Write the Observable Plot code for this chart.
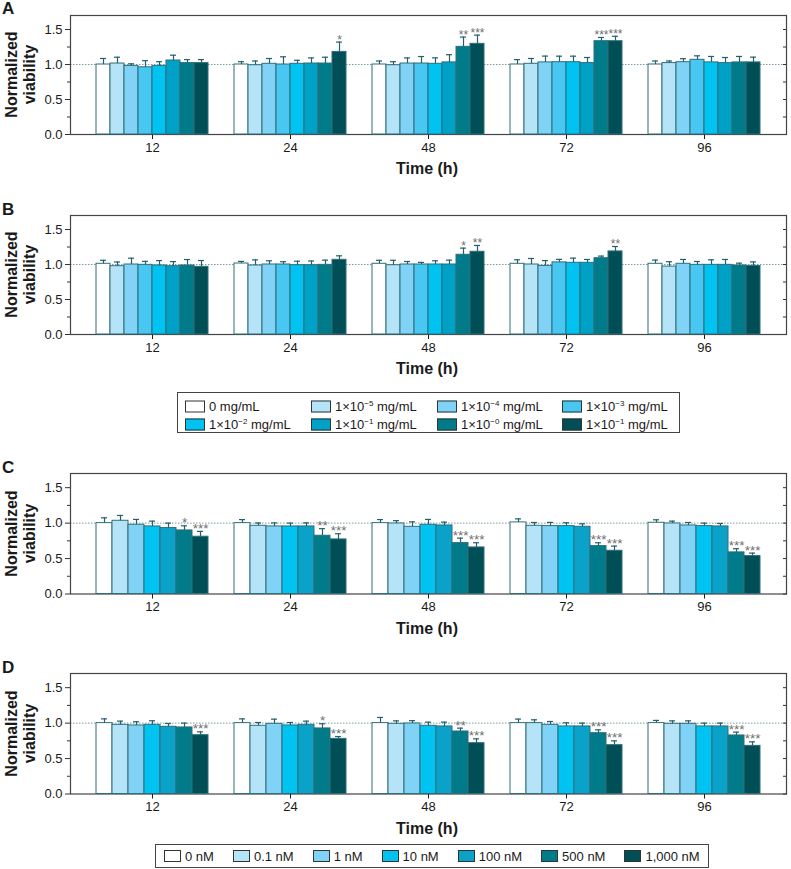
<!DOCTYPE html>
<html>
<head>
<meta charset="utf-8">
<script src="https://cdn.jsdelivr.net/npm/d3@7"></script>
<script src="https://cdn.jsdelivr.net/npm/@observablehq/plot@0.6"></script>
<style>
  body { margin: 0; background: #fff; font-family: "Liberation Sans", Arial, sans-serif; color: #1a1a1a; }
  #root { position: relative; width: 791px; height: 869px; overflow: hidden; background: #fff; }
  .panel { position: absolute; left: 0; }
  .letter { position: absolute; left: 2px; font-weight: bold; font-size: 17px; line-height: 17px; transform: translateY(-50%); }
  .ylab { position: absolute; font-weight: bold; font-size: 16px; line-height: 17.5px; text-align: center; transform-origin: center center; white-space: nowrap; }
  .xlab { position: absolute; font-weight: bold; font-size: 16px; line-height: 16px; transform: translate(-50%, -50%); white-space: nowrap; }
  .legend { position: absolute; border: 1px solid #444; box-sizing: border-box; background: #fff; font-size: 13px; }
  .item { position: absolute; display: flex; align-items: center; white-space: nowrap; transform: translateY(-50%); }
  .sw { width: 20px; height: 12px; border: 1px solid #333; box-sizing: border-box; margin-right: 4px; }
  .legend2 { display: flex; align-items: center; gap: 19px; padding: 0 8px; }
  .legend2 .item { position: static; transform: none; }
  .legend2 .sw { width: 17px; }
  sup { font-size: 8px; vertical-align: 5px; line-height: 0; }
</style>
</head>
<body>
<div id="root"></div>
<script>
// ---------- data ----------
const times = ["12", "24", "48", "72", "96"];

// Panels A & B : 8 concentrations (mg/mL)
const seriesAB = ["c0", "c1", "c2", "c3", "c4", "c5", "c6", "c7"];
const legendExpAB = [null, "−5", "−4", "−3", "−2", "−1", "−0", "−1"];
const colorsAB = ["#ffffff", "#b5e4f9", "#80d3f6", "#47c7f1", "#00c3f2", "#00a1c7", "#007b89", "#004f57"];

const valuesA = [
  [1.00, 1.014, 0.98, 0.96, 0.98, 1.057, 1.02, 1.02],
  [1.00, 0.99, 1.01, 1.00, 1.01, 1.014, 1.014, 1.18],
  [1.00, 0.99, 1.014, 1.014, 1.01, 1.03, 1.252, 1.295],
  [1.00, 1.01, 1.03, 1.033, 1.033, 1.02, 1.333, 1.333],
  [1.00, 1.02, 1.033, 1.067, 1.03, 1.02, 1.03, 1.03]
];
const errorsA = [
  [0.086, 0.09, 0.03, 0.095, 0.06, 0.076, 0.05, 0.05],
  [0.04, 0.06, 0.076, 0.11, 0.05, 0.08, 0.09, 0.14],
  [0.05, 0.05, 0.08, 0.1, 0.085, 0.11, 0.14, 0.125],
  [0.07, 0.076, 0.09, 0.086, 0.086, 0.08, 0.053, 0.07],
  [0.05, 0.03, 0.05, 0.057, 0.085, 0.08, 0.085, 0.075]
];
const signifA = [
  ["", "", "", "", "", "", "", ""],
  ["", "", "", "", "", "", "", "*"],
  ["", "", "", "", "", "", "**", "***"],
  ["", "", "", "", "", "", "***", "***"],
  ["", "", "", "", "", "", "", ""]
];

const valuesB = [
  [1.01, 0.976, 1.0, 0.995, 0.986, 0.976, 0.986, 0.967],
  [1.014, 0.986, 1.0, 1.0, 0.99, 0.99, 0.995, 1.067],
  [1.01, 0.99, 1.0, 1.0, 1.0, 1.0, 1.139, 1.182],
  [1.01, 1.0, 0.98, 1.03, 1.024, 1.024, 1.09, 1.187],
  [1.01, 0.97, 1.01, 0.995, 0.995, 0.995, 0.986, 0.98]
];
const errorsB = [
  [0.05, 0.06, 0.09, 0.05, 0.07, 0.065, 0.085, 0.09],
  [0.03, 0.08, 0.053, 0.04, 0.057, 0.06, 0.067, 0.057],
  [0.05, 0.07, 0.043, 0.03, 0.053, 0.062, 0.095, 0.09],
  [0.057, 0.086, 0.076, 0.043, 0.067, 0.048, 0.03, 0.07],
  [0.053, 0.07, 0.062, 0.048, 0.072, 0.077, 0.033, 0.057]
];
const signifB = [
  ["", "", "", "", "", "", "", ""],
  ["", "", "", "", "", "", "", ""],
  ["", "", "", "", "", "", "*", "**"],
  ["", "", "", "", "", "", "", "**"],
  ["", "", "", "", "", "", "", ""]
];

// Panels C & D : 7 concentrations (nM)
const seriesCD = ["0 nM", "0.1 nM", "1 nM", "10 nM", "100 nM", "500 nM", "1,000 nM"];
const colorsCD = ["#ffffff", "#b5e4f9", "#80d3f6", "#00c3f2", "#0aa2c9", "#007b89", "#004f57"];

const valuesC = [
  [1.0, 1.033, 0.977, 0.953, 0.93, 0.897, 0.808],
  [1.0, 0.962, 0.953, 0.953, 0.953, 0.822, 0.77],
  [1.0, 0.995, 0.948, 0.977, 0.967, 0.718, 0.657],
  [1.01, 0.962, 0.958, 0.958, 0.948, 0.676, 0.61],
  [1.005, 0.995, 0.967, 0.958, 0.953, 0.587, 0.535]
];
const errorsC = [
  [0.075, 0.075, 0.075, 0.075, 0.07, 0.065, 0.075],
  [0.05, 0.04, 0.05, 0.047, 0.05, 0.1, 0.08],
  [0.05, 0.04, 0.07, 0.075, 0.047, 0.07, 0.066],
  [0.05, 0.047, 0.052, 0.047, 0.042, 0.047, 0.066],
  [0.042, 0.033, 0.042, 0.042, 0.042, 0.052, 0.042]
];
const signifC = [
  ["", "", "", "", "", "*", "***"],
  ["", "", "", "", "", "**", "***"],
  ["", "", "", "", "", "***", "***"],
  ["", "", "", "", "", "***", "***"],
  ["", "", "", "", "", "***", "***"]
];

const valuesD = [
  [1.0, 0.976, 0.967, 0.976, 0.948, 0.939, 0.83],
  [1.0, 0.962, 0.99, 0.967, 0.976, 0.925, 0.778],
  [1.0, 0.99, 0.995, 0.962, 0.953, 0.882, 0.717],
  [1.0, 1.0, 0.976, 0.953, 0.953, 0.858, 0.689],
  [1.0, 0.99, 0.99, 0.953, 0.953, 0.826, 0.679]
];
const errorsD = [
  [0.06, 0.052, 0.052, 0.057, 0.047, 0.061, 0.047],
  [0.06, 0.047, 0.066, 0.042, 0.052, 0.066, 0.033],
  [0.08, 0.042, 0.04, 0.052, 0.061, 0.047, 0.061],
  [0.057, 0.047, 0.047, 0.052, 0.047, 0.047, 0.061],
  [0.038, 0.042, 0.042, 0.047, 0.047, 0.047, 0.057]
];
const signifD = [
  ["", "", "", "", "", "", "***"],
  ["", "", "", "", "", "*", "***"],
  ["", "", "", "", "", "**", "***"],
  ["", "", "", "", "", "***", "***"],
  ["", "", "", "", "", "***", "***"]
];

const yTicks = [0, 0.5, 1.0, 1.5];
const yMinorTicks = [0.25, 0.75, 1.25];
const yAllTicks = [0, 0.25, 0.5, 0.75, 1.0, 1.25, 1.5];
const yDomain = [0, 1.7];

// ---------- drawing ----------
const root = document.getElementById("root");
const fontStyle = { fontFamily: "Liberation Sans, Arial, sans-serif", fontSize: "13px", color: "#1a1a1a", background: "transparent", overflow: "visible" };
const MT = 14, MB = 46, ML = 70, MR = 5, W = 791;

function buildRows(values, errors, signif, series) {
  const rows = [];
  times.forEach((t, i) => series.forEach((s, j) => rows.push({
    time: t, series: s, v: values[i][j], e: errors[i][j], sig: signif[i][j]
  })));
  return rows;
}

function place(svg, top) {
  const wrap = document.createElement("div");
  wrap.className = "panel";
  wrap.style.top = top + "px";
  wrap.appendChild(svg);
  root.appendChild(wrap);
}

function panel({ letter, values, errors, signif, series, colors, frameTop, frameH, capInset, sigSize }) {
  const rows = buildRows(values, errors, signif, series);
  const H = MT + frameH + MB;

  // background layer: frame, y axes, reference line (full plot width)
  const bg = Plot.plot({
    width: W, height: H, marginTop: MT, marginBottom: MB, marginLeft: ML, marginRight: MR,
    style: fontStyle,
    x: { axis: null },
    y: { domain: yDomain, axis: null },
    marks: [
      Plot.ruleY([1], { stroke: "#7d9aa0", strokeWidth: 1, strokeDasharray: "1.5,1.5" }),
      Plot.axisY({ anchor: "left", ticks: yTicks, tickFormat: d3.format(".1f"), tickSize: 5, tickPadding: 3, label: null, stroke: "#333", fill: "#1a1a1a" }),
      Plot.axisY({ anchor: "left", ticks: yMinorTicks, tickFormat: () => "", tickSize: 3, label: null, stroke: "#333" }),
      Plot.axisY({ anchor: "right", ticks: yAllTicks, tickFormat: () => "", tickSize: 4, insetRight: 4, label: null, stroke: "#333" }),
      Plot.frame({ stroke: "#444", strokeWidth: 1.2 })
    ]
  });

  // foreground layer: grouped bars faceted by time
  const stroke = "#2f6e7a";
  const fg = Plot.plot({
    width: W, height: H, marginTop: MT, marginBottom: MB, marginLeft: ML, marginRight: MR,
    style: fontStyle,
    facet: { data: rows, x: "time" },
    fx: { domain: times, paddingInner: 0.19, paddingOuter: 0.18, axis: "bottom", label: null, tickSize: 5, tickPadding: 3 },
    x: { domain: series, padding: 0, axis: null },
    y: { domain: yDomain, axis: null },
    color: { domain: series, range: colors },
    marks: [
      Plot.barY(rows, { x: "series", y: "v", fill: "series", stroke, strokeWidth: 1 }),
      Plot.ruleX(rows, { x: "series", y1: "v", y2: d => d.v + d.e, stroke: "#24606b", strokeWidth: 1.2 }),
      Plot.tickY(rows, { x: "series", y: d => d.v + d.e, stroke: "#24606b", strokeWidth: 1.2, insetLeft: capInset, insetRight: capInset }),
      Plot.text(rows, { filter: d => d.sig !== "", x: "series", y: d => d.v + d.e, text: "sig", lineAnchor: "bottom", dy: 1.5, fill: "#6e6e6e", fontSize: sigSize })
    ]
  });

  place(bg, frameTop - MT);
  place(fg, frameTop - MT);

  const L = document.createElement("div");
  L.className = "letter";
  L.textContent = letter;
  L.style.top = (frameTop - 6.5) + "px";
  root.appendChild(L);

  const yl = document.createElement("div");
  yl.className = "ylab";
  yl.innerHTML = "Normalized<br>viability";
  const w = 120, h = 35;
  yl.style.width = w + "px";
  yl.style.height = h + "px";
  yl.style.left = (19.5 - w / 2) + "px";
  yl.style.top = (frameTop + frameH / 2 - h / 2) + "px";
  yl.style.transform = "rotate(-90deg)";
  root.appendChild(yl);

  const xl = document.createElement("div");
  xl.className = "xlab";
  xl.textContent = "Time (h)";
  xl.style.left = "427px";
  xl.style.top = (frameTop + frameH + 35) + "px";
  root.appendChild(xl);
}

panel({ letter: "A", values: valuesA, errors: errorsA, signif: signifA, series: seriesAB, colors: colorsAB, frameTop: 14.5, frameH: 119, capInset: 4, sigSize: 12 });
panel({ letter: "B", values: valuesB, errors: errorsB, signif: signifB, series: seriesAB, colors: colorsAB, frameTop: 215, frameH: 119, capInset: 4, sigSize: 12 });
panel({ letter: "C", values: valuesC, errors: errorsC, signif: signifC, series: seriesCD, colors: colorsCD, frameTop: 473, frameH: 120.5, capInset: 5, sigSize: 13.5 });
panel({ letter: "D", values: valuesD, errors: errorsD, signif: signifD, series: seriesCD, colors: colorsCD, frameTop: 673, frameH: 120.5, capInset: 5, sigSize: 13.5 });

// Legend 1 (mg/mL)
const leg1 = document.createElement("div");
leg1.className = "legend";
Object.assign(leg1.style, { left: "177px", top: "392px", width: "503px", height: "41px" });
const colX = [7, 133, 259, 384];
const rowY = [13, 31];
seriesAB.forEach((s, i) => {
  const it = document.createElement("div");
  it.className = "item";
  it.style.left = colX[i % 4] + "px";
  it.style.top = rowY[Math.floor(i / 4)] + "px";
  const sw = document.createElement("div");
  sw.className = "sw";
  sw.style.background = colorsAB[i];
  const tx = document.createElement("span");
  const exp = legendExpAB[i];
  tx.innerHTML = exp === null ? "0 mg/mL" : "1×10<sup>" + exp + "</sup> mg/mL";
  it.appendChild(sw); it.appendChild(tx);
  leg1.appendChild(it);
});
root.appendChild(leg1);

// Legend 2 (nM)
const leg2 = document.createElement("div");
leg2.className = "legend legend2";
Object.assign(leg2.style, { top: "844px", height: "24px" });
seriesCD.forEach((s, i) => {
  const it = document.createElement("div");
  it.className = "item";
  const sw = document.createElement("div");
  sw.className = "sw";
  sw.style.background = colorsCD[i];
  const tx = document.createElement("span");
  tx.textContent = s;
  it.appendChild(sw); it.appendChild(tx);
  leg2.appendChild(it);
});
root.appendChild(leg2);
leg2.style.left = (432 - leg2.offsetWidth / 2) + "px";
</script>
</body>
</html>
